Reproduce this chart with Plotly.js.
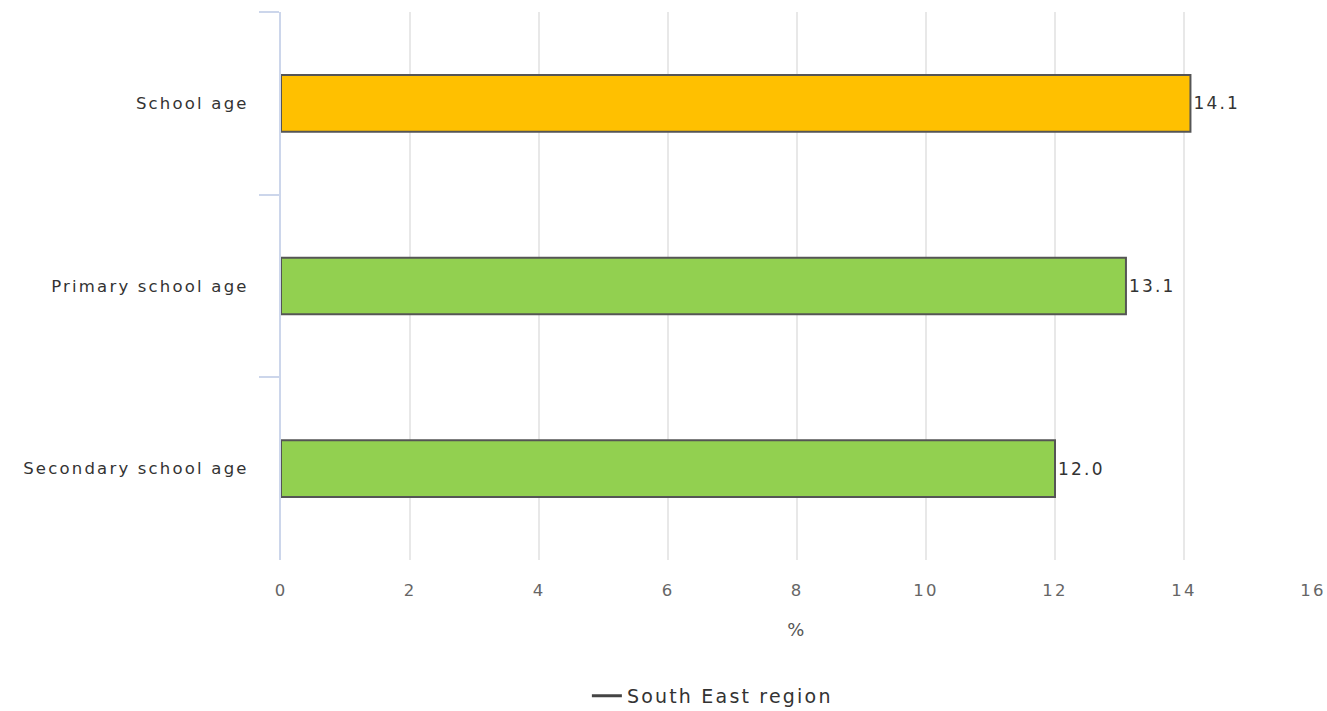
<!DOCTYPE html>
<html>
<head>
<meta charset="utf-8">
<script src="https://cdn.plot.ly/plotly-3.0.1.min.js"></script>
<style>
html, body { margin: 0; padding: 0; background: #fff; }
#chart { width: 1327px; height: 711px; }
text { letter-spacing: 2.2px; }
</style>
</head>
<body>
<div id="chart"></div>
<script>
const categories = ["School age", "Primary school age", "Secondary school age"];
const values = [14.1, 13.1, 12.0];
const barColors = ["#FFC000", "#92D050", "#92D050"];
const labels = ["14.1", "13.1", "12.0"];
const legendName = "South East region";
const xTicks = [0, 2, 4, 6, 8, 10, 12, 14, 16];

const font = "DejaVu Sans, Verdana, sans-serif";

const traces = [
  {
    type: "bar",
    orientation: "h",
    y: categories,
    x: values,
    text: labels,
    textposition: "outside",
    cliponaxis: false,
    textfont: { family: font, size: 17, color: "#333333" },
    marker: { color: barColors, line: { color: "#555555", width: 2 } },
    width: 0.31,
    showlegend: false,
    hoverinfo: "skip"
  },
  {
    type: "scatter",
    mode: "lines",
    x: [null],
    y: [null],
    name: legendName,
    line: { color: "#444444", width: 3 },
    showlegend: true,
    hoverinfo: "skip"
  }
];

const layout = {
  width: 1327,
  height: 711,
  margin: { l: 281, r: 14, t: 12, b: 151, autoexpand: false },
  paper_bgcolor: "#ffffff",
  plot_bgcolor: "#ffffff",
  font: { family: font, color: "#333333" },
  showlegend: true,
  hovermode: false,
  xaxis: {
    range: [0, 16],
    tickvals: xTicks,
    ticktext: xTicks.map(String),
    showgrid: true,
    gridcolor: "#e8e8e8",
    gridwidth: 2,
    zeroline: false,
    showline: false,
    ticks: "",
    ticklabelstandoff: 18,
    tickfont: { family: font, size: 16.5, color: "#666666" },
    title: { text: "%", font: { family: font, size: 18, color: "#555555" }, standoff: 24 }
  },
  yaxis: {
    type: "category",
    categoryorder: "array",
    categoryarray: categories,
    range: [2.5, -0.5],
    showgrid: false,
    zeroline: false,
    showline: true,
    linecolor: "#ccd6eb",
    linewidth: 2,
    ticks: "outside",
    tickson: "boundaries",
    ticklen: 20,
    tickwidth: 2,
    tickcolor: "#ccd6eb",
    ticklabelstandoff: 27,
    tickfont: { family: font, size: 16.5, color: "#333333" }
  },
  legend: {
    orientation: "h",
    x: 0.418,
    xanchor: "center",
    y: -0.248,
    yanchor: "middle",
    font: { family: font, size: 19, color: "#333333" },
    bgcolor: "rgba(0,0,0,0)"
  }
};

Plotly.newPlot("chart", traces, layout, { displayModeBar: false, staticPlot: true });
</script>
</body>
</html>
